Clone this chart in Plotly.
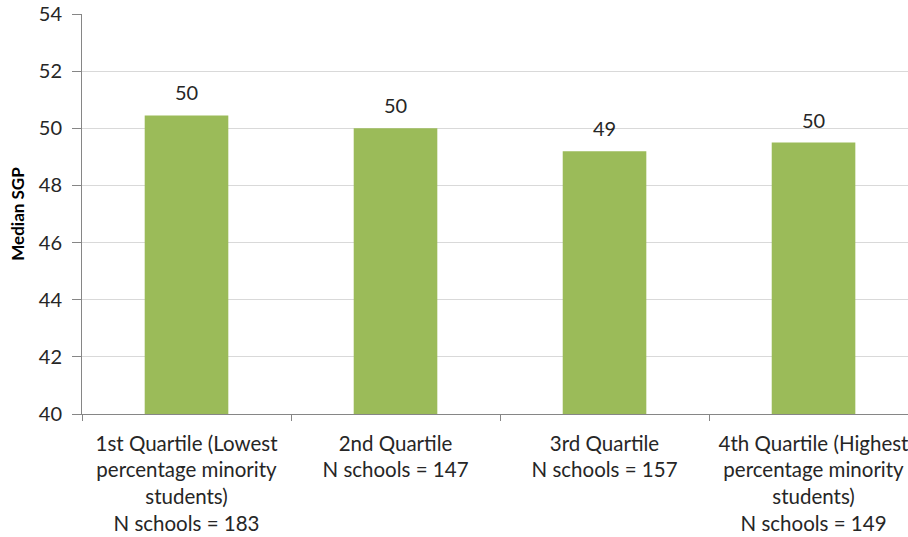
import plotly.graph_objects as go

categories = [
    "1st Quartile (Lowest<br>percentage minority<br>students)<br>N schools = 183",
    "2nd Quartile<br>N schools = 147",
    "3rd Quartile<br>N schools = 157",
    "4th Quartile (Highest<br>percentage minority<br>students)<br>N schools = 149",
]
median_sgp = [50.45, 50.0, 49.2, 49.5]
value_labels = ["50", "50", "49", "50"]
y_ticks = [40, 42, 44, 46, 48, 50, 52, 54]

FONT = "Lato, Carlito, sans-serif"
TXT = "#262626"
xpos = list(range(len(categories)))

fig = go.Figure(go.Bar(
    x=xpos, y=median_sgp, width=0.4,
    marker=dict(color="#9BBB59", line=dict(width=0)),
    hoverinfo="skip",
))

for xi, yi, lab in zip(xpos, median_sgp, value_labels):
    fig.add_annotation(x=xi, y=yi, xref="x", yref="y", text=lab, showarrow=False,
                       yanchor="middle", yshift=23,
                       font=dict(size=20, family=FONT, color=TXT))

fig.update_layout(
    width=908, height=537,
    margin=dict(l=82, r=0, t=14, b=123),
    paper_bgcolor="white", plot_bgcolor="white",
    font=dict(family=FONT, size=18, color=TXT),
    showlegend=False,
)
fig.update_xaxes(
    range=[-0.5, 3.452], automargin=False,
    tickmode="array", tickvals=xpos, ticktext=categories,
    ticks="", showgrid=False,
    showline=True, linecolor="#868686", linewidth=1,
    tickfont=dict(size=20.5, family=FONT, color=TXT),
    ticklabelstandoff=11, ticklabeloverflow="allow",
    minor=dict(tickmode="array", tickvals=[-0.5, 0.5, 1.5, 2.5],
               ticks="outside", ticklen=6, tickcolor="#868686", showgrid=False),
    zeroline=False,
)
fig.update_yaxes(
    range=[40, 54], automargin=False, tickmode="array", tickvals=y_ticks,
    ticks="outside", ticklen=9, tickcolor="#868686",
    showline=True, linecolor="#868686", linewidth=1,
    showgrid=True, gridcolor="#D9D9D9", gridwidth=1,
    tickfont=dict(size=20, family=FONT, color=TXT),
    ticklabelstandoff=6, ticklabeloverflow="allow",
    title=dict(text="<b>Median SGP</b>", font=dict(size=17, family=FONT, color="#000000"), standoff=9),
    zeroline=False,
)

fig.write_html("out.html", config={"displayModeBar": False},
               post_script="document.body.style.margin='0';")
